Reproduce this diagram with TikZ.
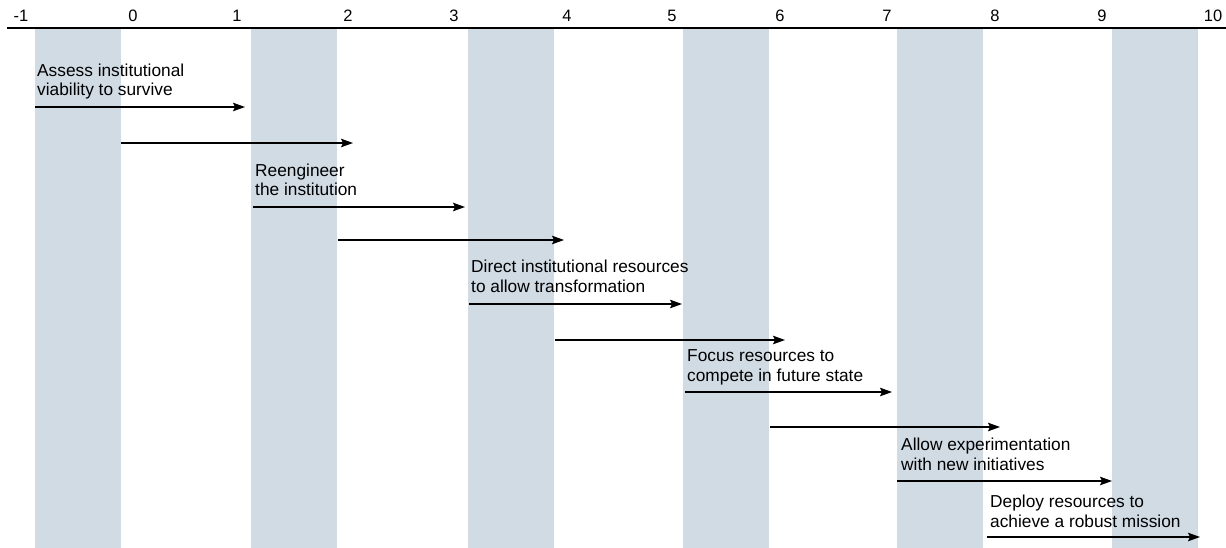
\documentclass[tikz,border=0pt]{standalone}
\usepackage{fontspec}
\setmainfont{Liberation Sans}
\usetikzlibrary{arrows.meta}
\definecolor{bandblue}{RGB}{209,219,228}
\begin{document}
\begin{tikzpicture}[x=1pt,y=-1pt,
  band/.style={fill=bandblue, draw=none, inner sep=0pt, minimum width=86pt, minimum height=519pt, anchor=north west},
  ticklabel/.style={anchor=base, inner sep=0pt, font=\fontsize{16.5}{19}\selectfont},
  phase/.style={anchor=base west, inner sep=0pt, font=\fontsize{17.3}{19.5}\selectfont},
  flow/.style={line width=1.6pt, -{Stealth[length=12pt,width=8.5pt,inset=2pt]}},
  axis/.style={line width=1.8pt},
]
\useasboundingbox (0,0) rectangle (1226,548);

% shaded period bands
\foreach \i/\l in {1/35,2/251,3/468,4/683,5/897,6/1112}
  \node[band] (band\i) at (\l,29) {};

% time axis and its labels
\coordinate (axisL) at (7,28);
\coordinate (axisR) at (1226,28);
\draw[axis] (axisL) -- (axisR);
\foreach \n/\x in {-1/21,0/133,1/237,2/348,3/454,4/567,5/672,6/780,7/887,8/995,9/1102,10/1213}
  \node[ticklabel] (t\n) at (\x,21.5) {\n};

% arrow end points
\coordinate (a1s) at (35,107);   \coordinate (a1e) at (245,107);
\coordinate (a2s) at (121,143);  \coordinate (a2e) at (353,143);
\coordinate (a3s) at (253,207);  \coordinate (a3e) at (465,207);
\coordinate (a4s) at (338,240);  \coordinate (a4e) at (564,240);
\coordinate (a5s) at (469,304);  \coordinate (a5e) at (682,304);
\coordinate (a6s) at (555,340);  \coordinate (a6e) at (785,340);
\coordinate (a7s) at (685,392);  \coordinate (a7e) at (892,392);
\coordinate (a8s) at (770,427);  \coordinate (a8e) at (1000,427);
\coordinate (a9s) at (897,481);  \coordinate (a9e) at (1112,481);
\coordinate (a10s) at (987,537); \coordinate (a10e) at (1200,537);

\foreach \k in {1,...,10}
  \draw[flow] (a\k s) -- (a\k e);

% phase captions, last line sitting just above each arrow
\node[phase] (p1) at ([xshift=2pt,yshift=11pt]a1s) {\begin{tabular}[b]{@{}l@{}}Assess institutional\\viability to survive\end{tabular}};
\node[phase] (p2) at ([xshift=2pt,yshift=11pt]a3s) {\begin{tabular}[b]{@{}l@{}}Reengineer\\the institution\end{tabular}};
\node[phase] (p3) at ([xshift=2pt,yshift=12pt]a5s) {\begin{tabular}[b]{@{}l@{}}Direct institutional resources\\to allow transformation\end{tabular}};
\node[phase] (p4) at ([xshift=2pt,yshift=11pt]a7s) {\begin{tabular}[b]{@{}l@{}}Focus resources to\\compete in future state\end{tabular}};
\node[phase] (p5) at ([xshift=4pt,yshift=11pt]a9s) {\begin{tabular}[b]{@{}l@{}}Allow experimentation\\with new initiatives\end{tabular}};
\node[phase] (p6) at ([xshift=3pt,yshift=10pt]a10s) {\begin{tabular}[b]{@{}l@{}}Deploy resources to\\achieve a robust mission\end{tabular}};
\end{tikzpicture}
\end{document}
